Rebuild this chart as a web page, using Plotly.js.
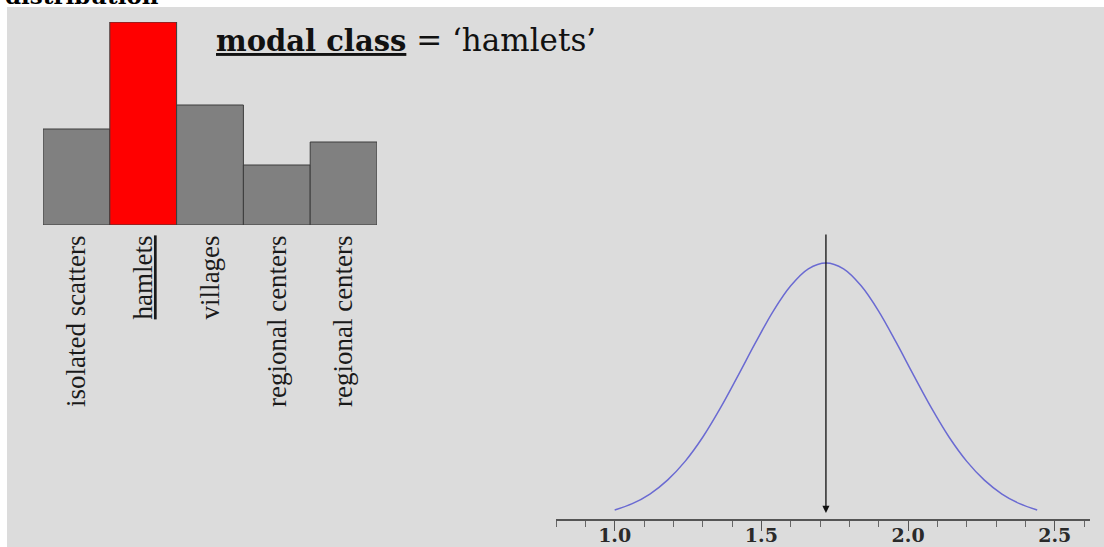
<!DOCTYPE html>
<html>
<head>
<meta charset="utf-8">
<script src="https://cdn.plot.ly/plotly-3.0.1.min.js"></script>
<style>
html,body{margin:0;padding:0;background:#ffffff;}
#chart{width:1104px;height:547px;}
</style>
</head>
<body>
<div id="chart"></div>
<script>
// ---- data ----
const categories = ['isolated scatters', 'hamlets', 'villages', 'regional centers', 'regional centers'];
const frequencies = [96, 203, 120, 60, 83];

const curveX = [1.00, 1.06, 1.12, 1.18, 1.24, 1.30, 1.36, 1.42, 1.48, 1.54, 1.60, 1.66, 1.72,
                1.78, 1.84, 1.90, 1.96, 2.02, 2.08, 2.14, 2.20, 2.26, 2.32, 2.38, 2.44];
const curveY = [0.050, 0.086, 0.140, 0.218, 0.323, 0.458, 0.621, 0.802, 0.988, 1.164, 1.307, 1.402, 1.435,
                1.402, 1.307, 1.164, 0.988, 0.802, 0.621, 0.458, 0.323, 0.218, 0.140, 0.086, 0.050];
const axisTickValues = [1.0, 1.5, 2.0, 2.5];
const axisTickLabels = ['1.0', '1.5', '2.0', '2.5'];
const modeValue = 1.72;
const modalLabel = 'hamlets';

// ---- layout helpers (pixel -> paper) ----
const W = 1104, H = 547;
const P = px => px / W;
const Q = py => 1 - py / H;

const modalIndex = frequencies.indexOf(Math.max(...frequencies));
const barColors = frequencies.map((v, i) => i === modalIndex ? '#ff0000' : '#808080');
const tickText = categories.map((c, i) => i === modalIndex ? '<u>' + c + '</u>' : c);

const traces = [
  {
    type: 'bar',
    x: categories.map((c, i) => i),
    y: frequencies,
    width: 1,
    marker: {color: barColors, line: {color: '#3c3c3c', width: 1}},
    xaxis: 'x', yaxis: 'y',
    hoverinfo: 'skip'
  },
  {
    type: 'scatter',
    mode: 'lines',
    x: curveX,
    y: curveY,
    line: {color: '#6a6ad2', width: 1.5, shape: 'spline', smoothing: 1},
    xaxis: 'x2', yaxis: 'y2',
    hoverinfo: 'skip'
  }
];

const layout = {
  width: W, height: H,
  margin: {l: 0, r: 0, t: 0, b: 0, pad: 0},
  paper_bgcolor: '#ffffff',
  plot_bgcolor: 'rgba(0,0,0,0)',
  showlegend: false,
  bargap: 0,
  hovermode: false,
  xaxis: {
    domain: [P(43), P(377)],
    range: [-0.5, 4.5],
    tickmode: 'array',
    tickvals: categories.map((c, i) => i),
    ticktext: tickText,
    tickangle: -90,
    ticks: '',
    ticklabelstandoff: 4,
    tickfont: {family: 'Liberation Serif, Times New Roman, serif', size: 27, color: '#1a1a1a'},
    showline: false, showgrid: false, zeroline: false,
    anchor: 'y', fixedrange: true
  },
  yaxis: {
    domain: [Q(225), Q(22)],
    range: [0, 203],
    visible: false, fixedrange: true, anchor: 'x'
  },
  xaxis2: {
    domain: [P(556), P(1090)],
    range: [0.8, 2.62],
    tickmode: 'array',
    tickvals: axisTickValues,
    ticktext: axisTickLabels,
    ticks: 'outside',
    ticklen: 10,
    tickwidth: 1,
    tickcolor: '#555555',
    minor: {tickmode: 'linear', tick0: 0.9, dtick: 0.1, ticks: 'outside', ticklen: 6, tickwidth: 1, tickcolor: '#666666'},
    ticklabelstandoff: -12,
    tickfont: {family: 'DejaVu Serif, serif', size: 19, color: '#2a2a2a', weight: 'bold'},
    showline: true, linecolor: '#555555', linewidth: 2,
    showgrid: false, zeroline: false,
    anchor: 'y2', fixedrange: true
  },
  yaxis2: {
    domain: [Q(519), Q(233)],
    range: [0, 1.603],
    visible: false, fixedrange: true, anchor: 'x2'
  },
  shapes: [
    {type: 'rect', xref: 'paper', yref: 'paper', x0: P(7), x1: 1.01, y0: -0.01, y1: Q(7),
     fillcolor: '#dcdcdc', line: {width: 0}, layer: 'below'}
  ],
  annotations: [
    {
      xref: 'paper', yref: 'paper', x: P(214), y: Q(52), xanchor: 'left', yanchor: 'bottom',
      yshift: -8,
      text: '<b><u>modal class</u></b><span style="font-size:31px"> = \u2018' + modalLabel + '\u2019</span>',
      showarrow: false,
      font: {family: 'DejaVu Serif, serif', size: 29, color: '#111111'}
    },
    {
      xref: 'paper', yref: 'paper', x: P(3), y: Q(5), xanchor: 'left', yanchor: 'bottom',
      yshift: -6,
      text: '<b>distribution</b>',
      showarrow: false,
      font: {family: 'DejaVu Serif, serif', size: 23, color: '#000000'}
    },
    {
      xref: 'x2', yref: 'y2', axref: 'x2', ayref: 'y2',
      x: modeValue, y: 0.034, ax: modeValue, ay: 1.603,
      text: '', showarrow: true,
      arrowhead: 2, arrowsize: 1.1, arrowwidth: 1.3, arrowcolor: '#111111',
      standoff: 0, startstandoff: 0
    }
  ]
};

Plotly.newPlot('chart', traces, layout, {staticPlot: true, displayModeBar: false});
</script>
</body>
</html>
